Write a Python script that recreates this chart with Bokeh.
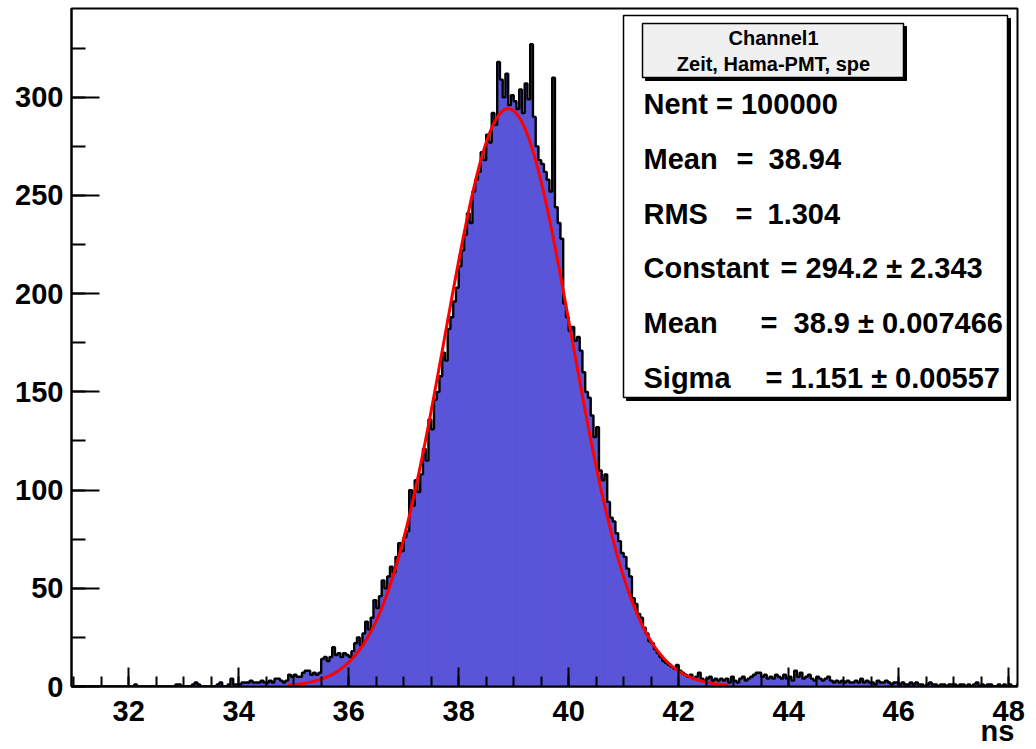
import numpy as np
from bokeh.plotting import figure
from bokeh.models import (Label, SingleIntervalTicker, Range1d, BoxAnnotation, LinearAxis,
                          FixedTicker, CustomJSTickFormatter)
from bokeh.embed import file_html
from bokeh.resources import INLINE

# ---------------- data ----------------
bin_start = 31.0
bin_width = 0.05
# counts per bin, one list per nanosecond (20 bins of 0.05 ns each)
c31 = [0, 0, 0, 0, 0, 0, 0, 0, 0, 0, 0, 0, 0, 0, 0, 0, 0, 0, 0, 0]
c32 = [0, 0, 1, 0, 0, 0, 0, 0, 0, 0, 0, 0, 0, 0, 0, 0, 0, 1, 1, 0]
c33 = [0, 0, 0, 1, 2, 1, 0, 0, 0, 0, 0, 0, 1, 2, 0, 0, 1, 4, 1, 1]
c34 = [1, 2, 2, 2, 3, 2, 2, 2, 3, 2, 2, 3, 2, 4, 4, 3, 2, 3, 6, 5]
c35 = [6, 5, 5, 7, 8, 8, 6, 7, 6, 7, 14, 15, 13, 15, 20, 16, 17, 15, 17, 16]
c36 = [15, 18, 22, 25, 21, 27, 33, 29, 35, 44, 40, 46, 54, 50, 56, 61, 58, 66, 73, 69]
c37 = [76, 79, 100, 92, 105, 99, 108, 121, 115, 136, 131, 146, 150, 158, 170, 166, 182, 188, 196, 203]
c38 = [214, 222, 230, 241, 236, 252, 258, 262, 272, 268, 281, 277, 292, 286, 318, 309, 300, 312, 296, 301]
c39 = [298, 294, 304, 292, 307, 299, 327, 290, 275, 268, 266, 262, 258, 252, 310, 244, 236, 228, 195, 188]
c40 = [181, 183, 176, 178, 171, 160, 150, 147, 138, 127, 132, 110, 105, 108, 94, 86, 84, 78, 74, 68]
c41 = [66, 60, 56, 45, 42, 37, 35, 30, 27, 23, 22, 19, 17, 15, 13, 12, 11, 10, 9, 11]
c42 = [8, 7, 6, 5, 6, 4, 5, 7, 4, 3, 4, 5, 3, 4, 3, 4, 3, 4, 2, 5]
c43 = [3, 2, 4, 5, 3, 4, 5, 6, 7, 7, 5, 6, 4, 5, 4, 6, 5, 4, 6, 4]
c44 = [5, 3, 8, 5, 7, 4, 5, 6, 4, 3, 5, 4, 3, 4, 5, 3, 2, 3, 2, 3]
c45 = [2, 3, 2, 2, 3, 2, 4, 2, 3, 2, 2, 1, 3, 2, 2, 3, 2, 1, 2, 2]
c46 = [1, 2, 1, 1, 2, 1, 2, 1, 1, 0, 1, 2, 1, 1, 0, 1, 1, 0, 1, 1]
c47 = [1, 0, 1, 1, 0, 1, 0, 1, 2, 0, 1, 0, 1, 1, 0, 0, 1, 0, 1, 0]
c48 = [1, 0, 0, 1]

# Gaussian fit parameters (from the stats box)
fit_constant = 294.2
fit_mean = 38.9
fit_sigma = 1.151
fit_range = (34.9, 42.9)

x_range = (30.96, 48.16)
y_range = (0.0, 345.2)
x_label = "ns"

stats_title = ["Channel1", "Zeit, Hama-PMT, spe"]
stats_names = ["Mean", "RMS", "Constant", "Mean", "Sigma"]
stats_values = ["38.94", "1.304", "294.2 \u00b1 2.343", "38.9 \u00b1 0.007466", "1.151 \u00b1 0.00557"]
nent_text = "Nent = 100000"

# ---------------- styling ----------------
FONT = "Liberation Sans"
BLUE = "#5954d8"
FRAME_L, FRAME_R, FRAME_T, FRAME_B = 71, 1017, 8, 686


def X(px):
    return x_range[0] + (px - FRAME_L) / (FRAME_R - FRAME_L) * (x_range[1] - x_range[0])


def Y(py):
    return y_range[0] + (FRAME_B - py) / (FRAME_B - FRAME_T) * (y_range[1] - y_range[0])


p = figure(width=1036, height=749, x_range=Range1d(*x_range), y_range=Range1d(*y_range),
           output_backend="svg", toolbar_location=None,
           min_border_left=FRAME_L, min_border_right=1036 - FRAME_R,
           min_border_top=FRAME_T, min_border_bottom=749 - FRAME_B)
p.xgrid.visible = False
p.ygrid.visible = False
p.background_fill_color = "white"
p.border_fill_color = "white"
p.outline_line_color = "black"
p.outline_line_width = 2

p.xaxis.ticker = SingleIntervalTicker(interval=2, num_minor_ticks=4)
p.yaxis.ticker = SingleIntervalTicker(interval=50, num_minor_ticks=2)
for ax in (p.xaxis[0], p.yaxis[0]):
    ax.axis_line_width = 2
    ax.major_tick_line_width = 2
    ax.minor_tick_line_width = 2
    ax.major_tick_out = 0
    ax.minor_tick_out = 0
    ax.major_label_text_font = FONT
    ax.major_label_text_font_style = "bold"
    ax.major_label_text_font_size = "29px"
    ax.major_label_text_color = "black"
p.xaxis.major_tick_in = 19
p.xaxis.minor_tick_in = 10
p.yaxis.major_tick_in = 28
p.yaxis.minor_tick_in = 14
p.xaxis.major_label_standoff = 14
p.yaxis.major_label_standoff = 8

# axis title "ns", right-aligned under the last tick label
ns_pos = X(997)
ns_axis = LinearAxis(ticker=FixedTicker(ticks=[ns_pos], minor_ticks=[]),
                     formatter=CustomJSTickFormatter(code="return '%s';" % x_label),
                     axis_line_color=None, major_tick_line_color=None,
                     minor_tick_line_color=None, major_tick_in=0, major_tick_out=0,
                     minor_tick_in=0, minor_tick_out=0, major_label_standoff=-9,
                     major_label_text_font=FONT, major_label_text_font_style="bold",
                     major_label_text_font_size="29px", major_label_text_color="black")
p.add_layout(ns_axis, "below")

# ---------------- histogram ----------------
counts = np.array(c31 + c32 + c33 + c34 + c35 + c36 + c37 + c38 + c39 + c40 +
                  c41 + c42 + c43 + c44 + c45 + c46 + c47 + c48, dtype=float)
n = len(counts)
left = bin_start + bin_width * np.arange(n)
right = left + bin_width
p.quad(left=left, right=right, bottom=0, top=counts, fill_color=BLUE, line_color=BLUE,
       line_width=1)

sx = [left[0]]
sy = [0.0]
for i in range(n):
    sx += [left[i], right[i]]
    sy += [counts[i], counts[i]]
sx.append(right[-1])
sy.append(0.0)
p.line(sx, sy, line_color="black", line_width=2.4)

# ---------------- fit ----------------
fx = np.linspace(fit_range[0], fit_range[1], 400)
fy = fit_constant * np.exp(-0.5 * ((fx - fit_mean) / fit_sigma) ** 2)
p.line(fx, fy, line_color="red", line_width=3)

# ---------------- stats box ----------------
p.add_layout(BoxAnnotation(left=X(626), right=X(1010), top=Y(18), bottom=Y(400),
                           fill_color="black", fill_alpha=1, line_color="black", line_alpha=1))
p.add_layout(BoxAnnotation(left=X(623), right=X(1007), top=Y(15), bottom=Y(397),
                           fill_color="white", fill_alpha=1, line_color="black",
                           line_width=1.5, line_alpha=1))
p.add_layout(BoxAnnotation(left=X(645), right=X(906), top=Y(26), bottom=Y(80),
                           fill_color="black", fill_alpha=1, line_color="black", line_alpha=1))
p.add_layout(BoxAnnotation(left=X(642), right=X(903), top=Y(23), bottom=Y(77),
                           fill_color="#f0f0f0", fill_alpha=1, line_color="black",
                           line_width=1.5, line_alpha=1))


def lab(text, px, py, size="29px", align="left"):
    p.add_layout(Label(x=X(px), y=Y(py), text=text, text_align=align, text_baseline="middle",
                       text_font=FONT, text_font_style="bold", text_font_size=size,
                       text_color="black"))


lab(stats_title[0], 773, 37, size="20px", align="center")
lab(stats_title[1], 773, 63, size="20px", align="center")
lab(nent_text, 643, 103)
row_y = [158, 213, 267, 322, 377]
eq_x = [736, 735, 780, 760, 765]
val_x = [768, 767, 805, 793, 790]
for name, val, ry, ex, vx in zip(stats_names, stats_values, row_y, eq_x, val_x):
    lab(name, 643, ry)
    lab("=", ex, ry)
    lab(val, vx, ry)

open("out.html", "w").write(file_html(p, INLINE))
